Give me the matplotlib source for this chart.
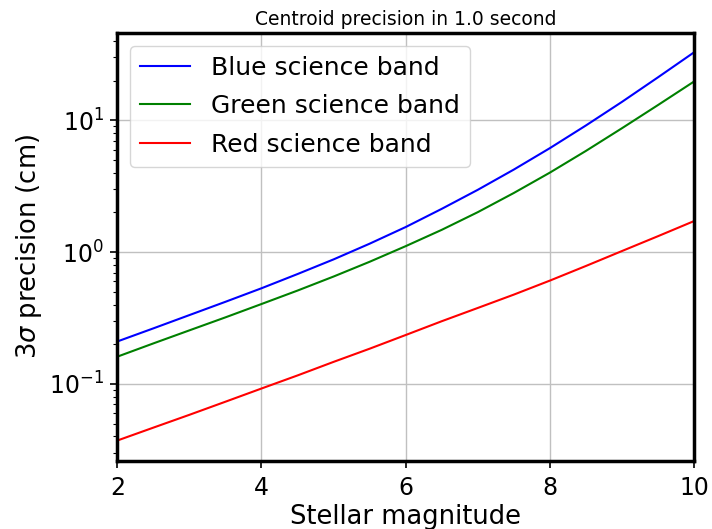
import numpy as np
import matplotlib
matplotlib.use('Agg')
import matplotlib.pyplot as plt

# Valeurs (précision 3 sigma en cm), tous les 0.5 mag
magnitudes = [2, 2.5, 3, 3.5, 4, 4.5, 5, 5.5, 6, 6.5, 7, 7.5, 8, 8.5, 9, 9.5, 10]
bleu = [0.21, 0.264, 0.333, 0.42, 0.532, 0.682, 0.881, 1.159, 1.55, 2.13, 2.97,
        4.23, 6.15, 9.14, 13.8, 21.2, 32.8]
vert = [0.161, 0.203, 0.255, 0.32, 0.404, 0.511, 0.653, 0.845, 1.11, 1.476, 2.01,
        2.81, 4.01, 5.86, 8.71, 13.06, 19.7]
rouge = [0.0372, 0.0466, 0.0583, 0.0733, 0.0923, 0.116, 0.147, 0.185, 0.235, 0.299,
         0.377, 0.476, 0.608, 0.785, 1.019, 1.321, 1.72]

fig = plt.figure(figsize=(7.12, 5.29), dpi=100)
ax = fig.add_axes([0.1648, 0.1285, 0.8099, 0.8091])

ax.plot(magnitudes, bleu, color='blue', linewidth=1.5, label='Blue science band')
ax.plot(magnitudes, vert, color='green', linewidth=1.5, label='Green science band')
ax.plot(magnitudes, rouge, color='red', linewidth=1.5, label='Red science band')

ax.set_yscale('log')
ax.set_xlim(2, 10)
ax.set_ylim(0.026, 46)
ax.set_xticks([2, 4, 6, 8, 10])
ax.grid(True, which='major', color='#c0c0c0', linewidth=1)

for s in ax.spines.values():
    s.set_linewidth(2.5)

ax.tick_params(axis='both', which='major', labelsize=17, width=1.2, length=5, pad=4.5)
ax.tick_params(axis='x', which='major', pad=6)
ax.tick_params(axis='y', which='minor', width=0.8, length=3)

ax.set_xlabel('Stellar magnitude', fontsize=18.5, labelpad=3)
ax.set_ylabel(r'3$\sigma$ precision (cm)', fontsize=18.5, labelpad=4)
ax.set_title('Centroid precision in 1.0 second', fontsize=13.5, pad=6)
ax.legend(loc='upper left', fontsize=18, handlelength=2.0,
          labelspacing=0.58, handletextpad=0.85)

fig.savefig('out.png', dpi=100)
